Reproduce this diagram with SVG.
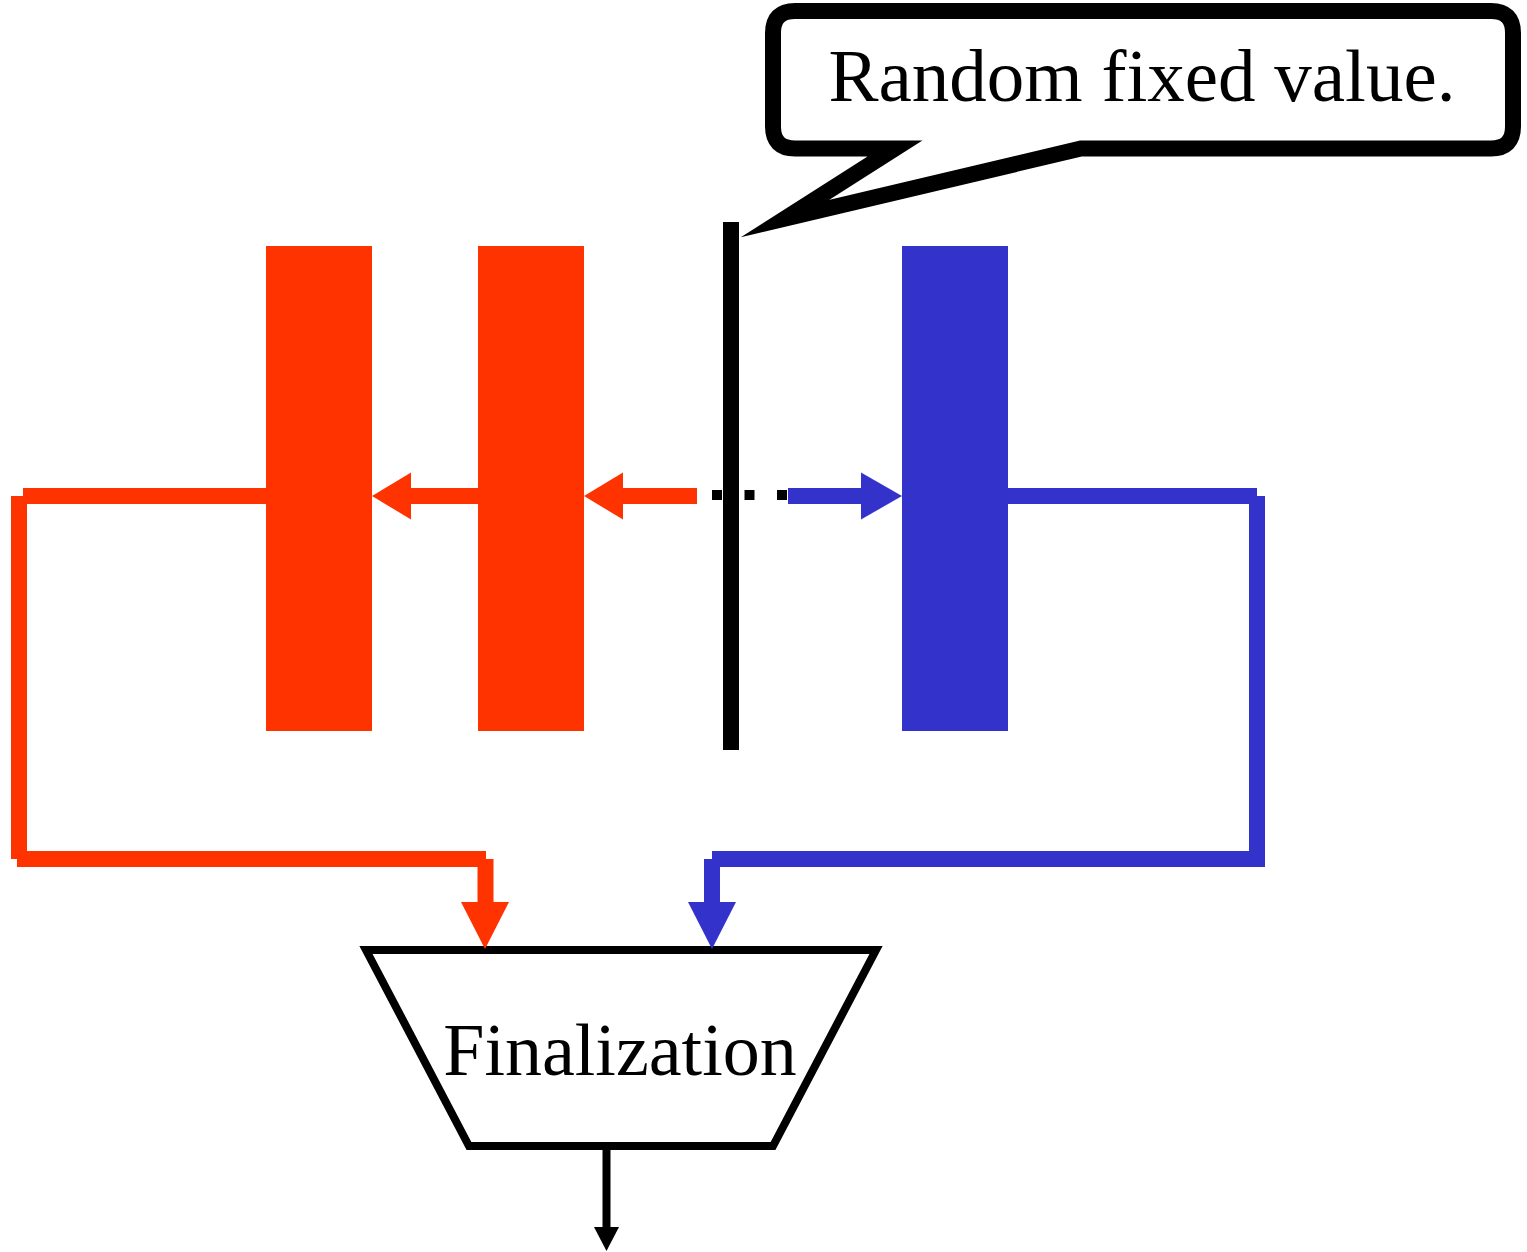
<svg xmlns="http://www.w3.org/2000/svg" width="1527" height="1252" viewBox="0 0 1527 1252">
<style>
.red{fill:#FF3300}
.blue{fill:#3333CC}
.rl{stroke:#FF3300;stroke-width:16;fill:none}
.bl{stroke:#3333CC;stroke-width:16;fill:none}
.txt{font-family:"Liberation Serif","Times New Roman",serif;fill:#000}
</style>
<rect width="1527" height="1252" fill="#fff"/>
<g id="red-block-1"><rect class="red" x="266" y="246" width="106" height="485"/></g>
<g id="red-block-2"><rect class="red" x="478" y="246" width="106" height="485"/></g>
<g id="blue-block"><rect class="blue" x="902" y="246" width="106" height="485"/></g>
<g id="divider"><rect x="723" y="222" width="16" height="528" fill="#000"/></g>
<g id="callout">
<path d="M795,11 H1491 Q1513,11 1513,33 V126.5 Q1513,148.5 1491,148.5 H1081 L785,218.6 L895,148.5 H795 Q773,148.5 773,126.5 V33 Q773,11 795,11 Z" fill="#fff" stroke="#000" stroke-width="16" stroke-linejoin="miter" stroke-miterlimit="10"/>
<text class="txt" x="1142" y="101" font-size="75" text-anchor="middle">Random fixed value.</text>
</g>
<g id="finalization">
<path d="M366,950 H876 L773,1146 H469 Z" fill="#fff" stroke="#000" stroke-width="8" stroke-linejoin="miter"/>
<text class="txt" x="620" y="1075" font-size="74" text-anchor="middle">Finalization</text>
</g>
<g id="connectors">
<line class="rl" x1="478" y1="496" x2="410" y2="496"/>
<polygon class="red" points="372,496 411,472.5 411,519.5"/>
<line class="rl" x1="697" y1="496" x2="622" y2="496"/>
<polygon class="red" points="584,496 623,472.5 623,519.5"/>
<line x1="712" y1="495" x2="787" y2="495" stroke="#000" stroke-width="10" stroke-dasharray="10 22.5"/>
<line class="bl" x1="788" y1="496" x2="862" y2="496"/>
<polygon class="blue" points="902,496 861,472.5 861,519.5"/>
<line class="rl" x1="266" y1="496" x2="23" y2="496"/>
<line class="rl" x1="19" y1="496" x2="19" y2="859"/>
<line class="rl" x1="17" y1="859" x2="486" y2="859"/>
<line class="rl" x1="485.5" y1="859" x2="485.5" y2="903"/>
<polygon class="red" points="461,902 509,902 485,949"/>
<line class="bl" x1="1008" y1="496" x2="1257" y2="496"/>
<line class="bl" x1="1257" y1="496" x2="1257" y2="859"/>
<line class="bl" x1="1265" y1="859" x2="712" y2="859"/>
<line class="bl" x1="712" y1="859" x2="712" y2="903"/>
<polygon class="blue" points="688,902 736,902 712,949"/>
<line x1="606.5" y1="1150" x2="606.5" y2="1228" stroke="#000" stroke-width="8"/>
<polygon points="594,1227 619,1227 606.5,1251" fill="#000"/>
</g>
</svg>
